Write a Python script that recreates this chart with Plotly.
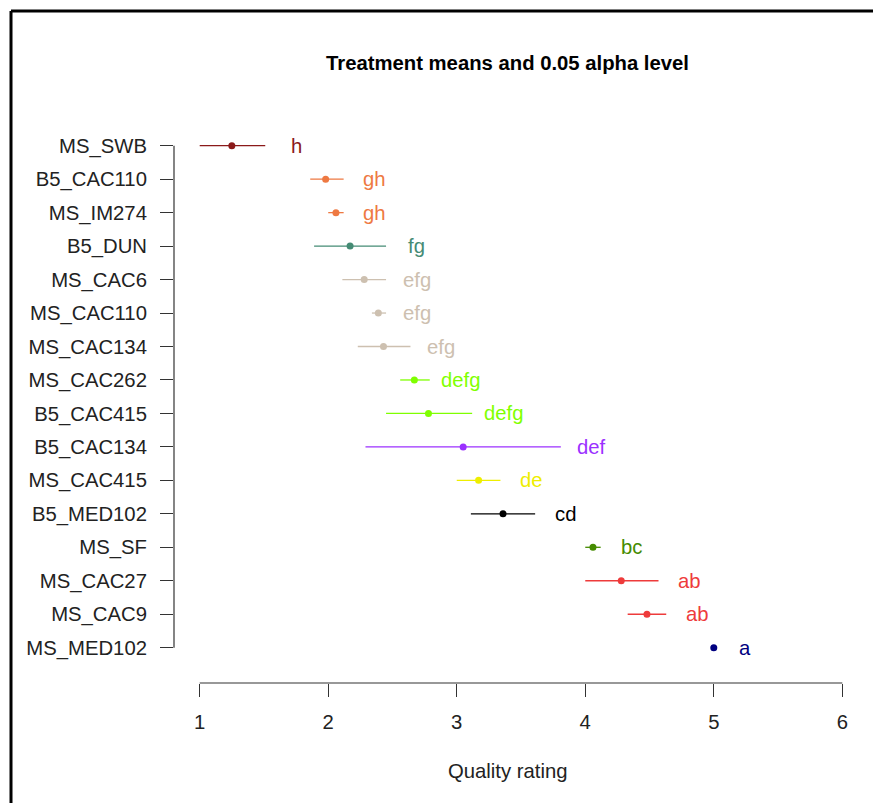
import plotly.graph_objects as go

treatments = ["MS_SWB", "B5_CAC110", "MS_IM274", "B5_DUN", "MS_CAC6", "MS_CAC110",
              "MS_CAC134", "MS_CAC262", "B5_CAC415", "B5_CAC134", "MS_CAC415",
              "B5_MED102", "MS_SF", "MS_CAC27", "MS_CAC9", "MS_MED102"]
means = [1.25, 1.98, 2.06, 2.17, 2.28, 2.39, 2.43, 2.67, 2.78, 3.05, 3.17, 3.36, 4.06, 4.28, 4.48, 5.00]
lower = [1.00, 1.86, 2.00, 1.89, 2.11, 2.34, 2.23, 2.56, 2.45, 2.29, 3.00, 3.11, 4.00, 4.00, 4.33, 5.00]
upper = [1.51, 2.12, 2.12, 2.45, 2.45, 2.45, 2.64, 2.79, 3.12, 3.81, 3.34, 3.61, 4.12, 4.57, 4.63, 5.00]
groups = ["h", "gh", "gh", "fg", "efg", "efg", "efg", "defg", "defg", "def", "de", "cd", "bc", "ab", "ab", "a"]
colors = ["#8B1A1A", "#EE7942", "#EE7942", "#458B74", "#CDC0B0", "#CDC0B0", "#CDC0B0",
          "#7FFF00", "#7FFF00", "#9B30FF", "#EEEE00", "#000000", "#458B00", "#EE3B3B",
          "#EE3B3B", "#000080"]
x_ticks = [1, 2, 3, 4, 5, 6]

FONT = "Liberation Sans, Arial, sans-serif"
OFF = 8  # the page's default body margin
W, H = 881 - OFF, 803 - OFF
L, T = 174 - OFF, 127 - OFF
R = W - (868 - OFF)
B = H - (683 - OFF)
pw, ph = W - L - R, H - T - B


def px_x(p):
    """page pixel x -> paper coordinate"""
    return (p - OFF - L) / pw


def px_y(p):
    """page pixel y -> paper coordinate"""
    return (H - B - (p - OFF)) / ph


fig = go.Figure()
for t, m, lo, hi, c in zip(treatments, means, lower, upper, colors):
    fig.add_trace(go.Scatter(
        x=[m], y=[t], mode="markers",
        marker=dict(color=c, size=7),
        error_x=dict(type="data", symmetric=False, array=[hi - m], arrayminus=[m - lo],
                     color=c, thickness=1.3, width=0),
        showlegend=False, hoverinfo="x+y"))

for t, hi, g, c in zip(treatments, upper, groups, colors):
    fig.add_annotation(x=hi + 0.24, y=t, text=g, showarrow=False, xanchor="center",
                       yanchor="middle", font=dict(family=FONT, size=20.3, color=c))

n = len(treatments)
shapes = [
    dict(type="line", xref="x", yref="paper", x0=min(x_ticks), x1=max(x_ticks), y0=0, y1=0,
         line=dict(color="#333333", width=1.2)),
    dict(type="line", xref="paper", yref="y", x0=0, x1=0, y0=0, y1=n - 1,
         line=dict(color="#333333", width=1.2)),
    # figure frame (top and left)
    dict(type="line", xref="paper", yref="paper", x0=px_x(11), x1=px_x(900),
         y0=px_y(11), y1=px_y(11), line=dict(color="black", width=3)),
    dict(type="line", xref="paper", yref="paper", x0=px_x(11), x1=px_x(11),
         y0=px_y(11), y1=px_y(820), line=dict(color="black", width=3)),
]

fig.add_annotation(xref="paper", yref="paper", x=px_x(507.5), y=px_y(771),
                   text="Quality rating", showarrow=False, xanchor="center", yanchor="middle",
                   font=dict(family=FONT, size=20.3, color="#222222"))

fig.update_layout(
    width=W, height=H,
    margin=dict(l=L, r=R, t=T, b=B, autoexpand=False),
    paper_bgcolor="white", plot_bgcolor="white",
    title=dict(text="<b>Treatment means and 0.05 alpha level</b>", xref="container",
               yref="container", x=(507.5 - OFF) / W, y=1 - (63 - OFF) / H,
               xanchor="center", yanchor="middle",
               font=dict(family=FONT, size=20.3, color="black")),
    xaxis=dict(range=[0.8, 6.2], tickvals=x_ticks, ticktext=[str(v) for v in x_ticks],
               showgrid=False, zeroline=False, showline=False, ticks="outside", ticklen=13,
               tickwidth=1.2, tickcolor="#333333", ticklabelstandoff=8,
               tickfont=dict(family=FONT, size=20.3, color="#222222")),
    yaxis=dict(type="category", categoryorder="array", categoryarray=treatments[::-1],
               range=[-1.055, n - 1 + 0.559], showgrid=False, zeroline=False, showline=False,
               ticks="outside", ticklen=13, tickwidth=1.2, tickcolor="#333333",
               ticklabelstandoff=9, tickfont=dict(family=FONT, size=20.3, color="#222222")),
    shapes=shapes,
)

fig.write_html("out.html")
